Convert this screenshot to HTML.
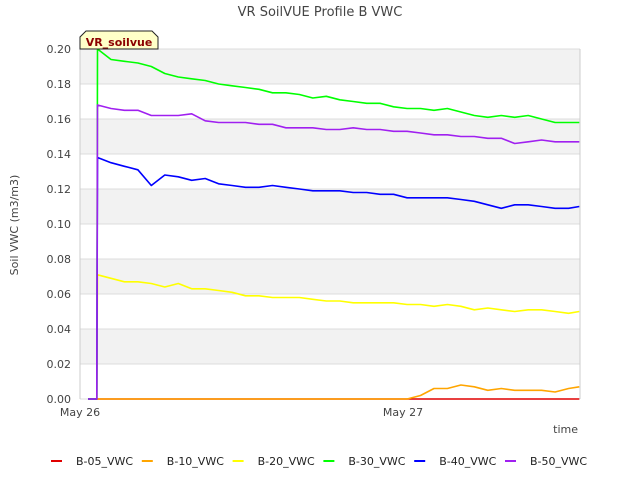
<!DOCTYPE html>
<html><head><meta charset="utf-8"><style>
body{margin:0;background:#fff;font-family:"Liberation Sans","DejaVu Sans",sans-serif}
svg text{font-family:"DejaVu Sans","Liberation Sans",sans-serif}
</style></head><body>
<svg id="c" width="640" height="480" xmlns="http://www.w3.org/2000/svg">
<text x="320" y="16" text-anchor="middle" font-size="13" fill="#444">VR SoilVUE Profile B VWC</text>
<g id="grid"></g>
<g id="series"></g>
<text x="18" y="225" transform="rotate(-90 18 225)" text-anchor="middle" font-size="11" fill="#444">Soil VWC (m3/m3)</text>
<text x="578" y="433" text-anchor="end" font-size="11" fill="#444">time</text>
<g>
<path d="M86,31 L152,31 L158,37 L158,49 L80,49 L80,37 Z" fill="#ffffc8" stroke="#222" stroke-width="1"/>
<text x="119" y="46" text-anchor="middle" font-size="11" font-weight="bold" fill="#8b0000">VR_soilvue</text>
</g>
<g id="legend"></g>
</svg>
<script>
const hours=[0.6,1.25,1.3,2.3,3.3,4.3,5.3,6.3,7.3,8.3,9.3,10.3,11.3,12.3,13.3,14.3,15.3,16.3,17.3,18.3,19.3,20.3,21.3,22.3,23.3,24.3,25.3,26.3,27.3,28.3,29.3,30.3,31.3,32.3,33.3,34.3,35.3,36.3,37.1];
const b05=[0,0,0,0,0,0,0,0,0,0,0,0,0,0,0,0,0,0,0,0,0,0,0,0,0,0,0,0,0,0,0,0,0,0,0,0,0,0,0];
const b10=[0,0,0,0,0,0,0,0,0,0,0,0,0,0,0,0,0,0,0,0,0,0,0,0,0,0,0.002,0.006,0.006,0.008,0.007,0.005,0.006,0.005,0.005,0.005,0.004,0.006,0.007];
const b20=[0,0,0.071,0.069,0.067,0.067,0.066,0.064,0.066,0.063,0.063,0.062,0.061,0.059,0.059,0.058,0.058,0.058,0.057,0.056,0.056,0.055,0.055,0.055,0.055,0.054,0.054,0.053,0.054,0.053,0.051,0.052,0.051,0.050,0.051,0.051,0.050,0.049,0.050];
const b30=[0,0,0.200,0.194,0.193,0.192,0.190,0.186,0.184,0.183,0.182,0.180,0.179,0.178,0.177,0.175,0.175,0.174,0.172,0.173,0.171,0.170,0.169,0.169,0.167,0.166,0.166,0.165,0.166,0.164,0.162,0.161,0.162,0.161,0.162,0.160,0.158,0.158,0.158];
const b40=[0,0,0.138,0.135,0.133,0.131,0.122,0.128,0.127,0.125,0.126,0.123,0.122,0.121,0.121,0.122,0.121,0.120,0.119,0.119,0.119,0.118,0.118,0.117,0.117,0.115,0.115,0.115,0.115,0.114,0.113,0.111,0.109,0.111,0.111,0.110,0.109,0.109,0.110];
const b50=[0,0,0.168,0.166,0.165,0.165,0.162,0.162,0.162,0.163,0.159,0.158,0.158,0.158,0.157,0.157,0.155,0.155,0.155,0.154,0.154,0.155,0.154,0.154,0.153,0.153,0.152,0.151,0.151,0.150,0.150,0.149,0.149,0.146,0.147,0.148,0.147,0.147,0.147];
const yTicks=[0,0.02,0.04,0.06,0.08,0.10,0.12,0.14,0.16,0.18,0.20];
const xTickHours=[0,24];
const xTickLabels=["May 26","May 27"];
const seriesNames=["B-05_VWC","B-10_VWC","B-20_VWC","B-30_VWC","B-40_VWC","B-50_VWC"];
const seriesColors=["#e00000","#ffa500","#ffff00","#00ff00","#0000ff","#a020f0"];
const seriesData=[b05,b10,b20,b30,b40,b50];

const NS="http://www.w3.org/2000/svg";
const L=80,R=580,T=49,B=399,HMAX=37.15;
const xs=h=>L+(h/HMAX)*(R-L);
const ys=v=>B-(v/0.20)*(B-T);
function mk(t,a,p){const e=document.createElementNS(NS,t);for(const k in a)e.setAttribute(k,a[k]);p.appendChild(e);return e;}
const grid=document.getElementById('grid');
for(let i=0;i<yTicks.length-1;i++){
  if(i%2===1){const r=mk('rect',{x:L,y:ys(yTicks[i+1]),width:R-L,height:ys(yTicks[i])-ys(yTicks[i+1]),fill:'#f2f2f2'},grid);
  
  }
}
yTicks.forEach(v=>{
  const l=mk('line',{x1:L,x2:R,y1:ys(v),y2:ys(v),stroke:'#dcdcdc','stroke-width':1},grid);
  
  
  const t=mk('text',{x:L-9,y:ys(v)+4,'text-anchor':'end','font-size':11,fill:'#444'},grid);
  t.textContent=v.toFixed(2);
  
  
});
mk('line',{x1:L,x2:L,y1:T,y2:B,stroke:'#ccc'},grid);
mk('line',{x1:R,x2:R,y1:T,y2:B,stroke:'#ccc'},grid);
xTickHours.forEach((h,i)=>{
  const t=mk('text',{x:xs(h),y:B+17,'text-anchor':'middle','font-size':11,fill:'#444'},grid);
  t.textContent=xTickLabels[i];
  
  
});
const sg=document.getElementById('series');
seriesData.forEach((d,i)=>{
  const p=mk('polyline',{points:d.map((v,j)=>xs(hours[j]).toFixed(1)+','+ys(v).toFixed(1)).join(' '),fill:'none',stroke:seriesColors[i],'stroke-width':1.6,'stroke-linejoin':'round'},sg);
  
  
});
const lg=document.getElementById('legend');
seriesNames.forEach((n,i)=>{
  const x=56+i*90.8;
  const g=mk('g',{},lg);
  
  
  mk('line',{x1:x-5,x2:x+6,y1:461,y2:461,stroke:seriesColors[i],'stroke-width':2},g);
  const t=mk('text',{x:x+20,y:465,'font-size':11,fill:'#222'},g);
  t.textContent=n;
});
</script>
</body></html>
